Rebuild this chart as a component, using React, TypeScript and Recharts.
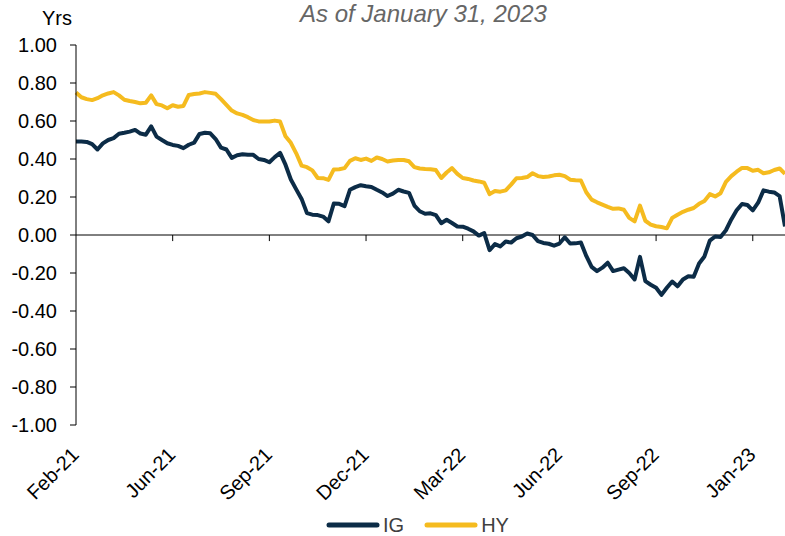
import { LineChart, Line, XAxis, YAxis, ReferenceLine } from "recharts";

// duration difference (yrs), sampled along the business-day axis
const hy = [
  0.75, 0.725, 0.715, 0.71, 0.72, 0.735, 0.745, 0.752, 0.735, 0.712,
  0.705, 0.7, 0.693, 0.696, 0.735, 0.689, 0.682, 0.667, 0.683, 0.675,
  0.679, 0.737, 0.742, 0.745, 0.752, 0.748, 0.743, 0.715, 0.685, 0.655,
  0.64, 0.632, 0.62, 0.605, 0.598, 0.597, 0.597, 0.602, 0.597, 0.52,
  0.485, 0.43, 0.365, 0.357, 0.34, 0.3, 0.299, 0.29, 0.345, 0.346,
  0.352, 0.39, 0.404, 0.395, 0.402, 0.39, 0.408, 0.4, 0.387, 0.392,
  0.395, 0.395, 0.388, 0.357, 0.35, 0.347, 0.346, 0.342, 0.3, 0.329,
  0.352, 0.322, 0.3, 0.295, 0.287, 0.282, 0.275, 0.215, 0.232, 0.228,
  0.235, 0.265, 0.299, 0.3, 0.305, 0.325, 0.31, 0.305, 0.308, 0.314,
  0.317, 0.31, 0.291, 0.288, 0.287, 0.225, 0.186, 0.172, 0.16, 0.148,
  0.138, 0.14, 0.133, 0.09, 0.072, 0.155, 0.075, 0.055, 0.046, 0.042,
  0.035, 0.09, 0.107, 0.122, 0.133, 0.142, 0.164, 0.179, 0.215, 0.203,
  0.22, 0.28, 0.31, 0.333, 0.353, 0.352, 0.338, 0.343, 0.325, 0.33,
  0.342, 0.35, 0.322,
];

const ig = [
  0.492, 0.492, 0.49, 0.478, 0.45, 0.482, 0.5, 0.51, 0.533, 0.538,
  0.544, 0.553, 0.534, 0.528, 0.572, 0.518, 0.5, 0.483, 0.474, 0.469,
  0.457, 0.475, 0.486, 0.532, 0.538, 0.535, 0.505, 0.46, 0.45, 0.406,
  0.42, 0.425, 0.422, 0.422, 0.4, 0.395, 0.383, 0.41, 0.432, 0.37,
  0.292, 0.24, 0.19, 0.115, 0.107, 0.105, 0.097, 0.072, 0.166, 0.164,
  0.152, 0.238, 0.252, 0.262, 0.257, 0.253, 0.238, 0.224, 0.205, 0.218,
  0.238, 0.229, 0.222, 0.155, 0.125, 0.112, 0.114, 0.105, 0.062, 0.08,
  0.063, 0.045, 0.044, 0.033, 0.019, -0.003, 0.01, -0.08, -0.048, -0.06,
  -0.034, -0.04, -0.017, -0.008, 0.008, 0.0, -0.032, -0.042, -0.046, -0.056,
  -0.045, -0.012, -0.045, -0.044, -0.04, -0.11, -0.168, -0.19, -0.172, -0.146,
  -0.19, -0.182, -0.175, -0.2, -0.234, -0.115, -0.243, -0.262, -0.278, -0.315,
  -0.278, -0.245, -0.27, -0.234, -0.217, -0.22, -0.15, -0.113, -0.03, -0.008,
  -0.01, 0.025, 0.082, 0.13, 0.163, 0.158, 0.13, 0.17, 0.235, 0.228,
  0.224, 0.205, 0.045,
];

const tickIdx = [0, 18, 36, 54, 72, 90, 108, 126];
const tickLabels = ["Feb-21", "Jun-21", "Sep-21", "Dec-21", "Mar-22", "Jun-22", "Sep-22", "Jan-23"];
const yTicks = [-1, -0.8, -0.6, -0.4, -0.2, 0, 0.2, 0.4, 0.6, 0.8, 1];

const data = ig.map((v, i) => ({ i, ig: v, hy: hy[i] }));

const IG_COLOR = "#0c2c47";
const HY_COLOR = "#f5bb1f";
const FONT = "'Liberation Sans', Arial, sans-serif";

function MonthTick({ x, y, payload }: { x: number; y: number; payload: { value: number } }) {
  const label = tickLabels[tickIdx.indexOf(payload.value)];
  const ax = x + 4;
  const ay = y + 31;
  return (
    <text
      x={ax}
      y={ay}
      textAnchor="end"
      transform={`rotate(-45, ${ax}, ${ay})`}
      fontSize={20}
      fontFamily={FONT}
      fill="#000"
    >
      {label}
    </text>
  );
}

function LegendItem({ color, label }: { color: string; label: string }) {
  return (
    <div style={{ display: "flex", alignItems: "center", marginRight: 20 }}>
      <svg width={54} height={8}>
        <line x1={3} y1={4} x2={51} y2={4} stroke={color} strokeWidth={5} strokeLinecap="round" />
      </svg>
      <span style={{ marginLeft: 3 }}>{label}</span>
    </div>
  );
}

export default function App() {
  return (
    <div style={{ position: "absolute", left: 0, top: 0, width: 785, height: 536, fontFamily: FONT }}>
      <div
        style={{
          position: "absolute",
          left: 300,
          top: 1,
          fontSize: 24,
          lineHeight: "26px",
          fontStyle: "italic",
          color: "#666",
          whiteSpace: "nowrap",
        }}
      >
        As of January 31, 2023
      </div>
      <div style={{ position: "absolute", left: 42, top: 8, fontSize: 20, lineHeight: "20px", color: "#000" }}>
        Yrs
      </div>
      <LineChart width={785} height={536} data={data} margin={{ top: 45, right: 0, left: 0, bottom: 0 }}>
        <XAxis
          dataKey="i"
          type="number"
          domain={[0, 132]}
          ticks={tickIdx}
          interval={0}
          axisLine={false}
          tickLine={false}
          tickSize={0}
          tickMargin={0}
          height={111}
          tick={MonthTick}
        />
        <YAxis
          type="number"
          domain={[-1, 1]}
          ticks={yTicks}
          interval={0}
          width={76}
          tickSize={6}
          tickMargin={13}
          tickFormatter={(v: number) => v.toFixed(2)}
          tick={{ fontSize: 20, fill: "#000", fontFamily: FONT }}
          axisLine={{ stroke: "#000" }}
          tickLine={{ stroke: "#000" }}
        />
        <ReferenceLine y={0} stroke="#000" />
        {tickIdx.slice(1).map((t) => (
          <ReferenceLine
            key={t}
            segment={[
              { x: t, y: 0 },
              { x: t, y: -0.032 },
            ]}
            stroke="#000"
          />
        ))}
        <Line
          type="linear"
          dataKey="ig"
          stroke={IG_COLOR}
          strokeWidth={4}
          strokeLinejoin="round"
          dot={false}
          isAnimationActive={false}
        />
        <Line
          type="linear"
          dataKey="hy"
          stroke={HY_COLOR}
          strokeWidth={4}
          strokeLinejoin="round"
          dot={false}
          isAnimationActive={false}
        />
      </LineChart>
      <div
        style={{
          position: "absolute",
          left: 326,
          top: 514,
          display: "flex",
          alignItems: "center",
          fontSize: 20,
          lineHeight: "22px",
          color: "#404040",
        }}
      >
        <LegendItem color={IG_COLOR} label="IG" />
        <LegendItem color={HY_COLOR} label="HY" />
      </div>
    </div>
  );
}
